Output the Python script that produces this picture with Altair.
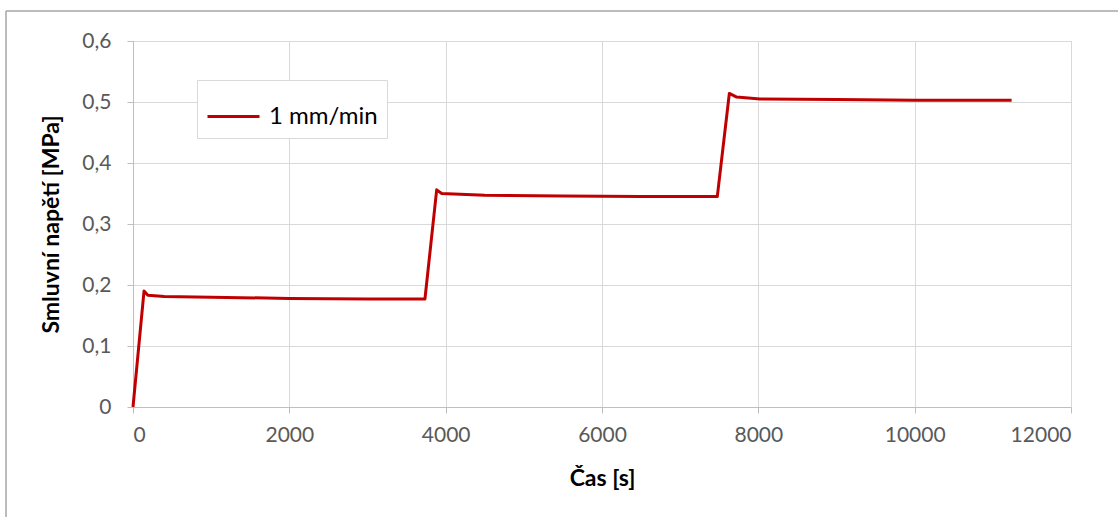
import altair as alt
import pandas as pd

# Data
time_s = [0, 141, 190, 400, 1000, 2000, 3000, 3735, 3885, 3949, 4500, 5500, 6500,
          7475, 7629, 7723, 8021, 9000, 10000, 11240]
stress_mpa = [0.0, 0.190, 0.183, 0.181, 0.180, 0.178, 0.177, 0.177, 0.356, 0.350,
              0.347, 0.346, 0.345, 0.345, 0.514, 0.508, 0.505, 0.504, 0.503, 0.503]
series_name = "1 mm/min"

x_ticks = [0, 2000, 4000, 6000, 8000, 10000, 12000]
y_ticks = [0, 0.1, 0.2, 0.3, 0.4, 0.5, 0.6]

df = pd.DataFrame({"t": time_s, "s": stress_mpa, "series": [series_name] * len(time_s)})

FONT = "Lato"
GRID = "#D9D9D9"
AXIS = "#BFBFBF"
LABEL = "#595959"

line = alt.Chart(df).mark_line(strokeWidth=3, strokeJoin="round").encode(
    x=alt.X("t:Q",
            scale=alt.Scale(domain=[0, 12000], nice=False),
            axis=alt.Axis(title="Čas [s]", values=x_ticks, format="d",
                          grid=True, gridColor=GRID, domainColor=AXIS,
                          tickColor=AXIS, tickSize=6, labelPadding=11,
                          labelFontSize=21, labelColor=LABEL, labelFont=FONT,
                          titleFont=FONT, titleFontSize=23, titleFontWeight="bold",
                          titleColor="#000000", titlePadding=22)),
    y=alt.Y("s:Q",
            scale=alt.Scale(domain=[0, 0.6], nice=False),
            axis=alt.Axis(title="Smluvní napětí [MPa]", values=y_ticks,
                          labelExpr="datum.value == 0 ? '0' : replace(format(datum.value, '.1f'), '.', ',')",
                          grid=True, gridColor=GRID, domainColor=AXIS,
                          tickColor=AXIS, tickSize=6, labelPadding=16,
                          labelFontSize=21, labelColor=LABEL, labelFont=FONT,
                          titleFont=FONT, titleFontSize=23, titleFontWeight="bold",
                          titleColor="#000000", titlePadding=18)),
    order="t:Q",
    color=alt.Color("series:N",
                    scale=alt.Scale(domain=[series_name], range=["#C00000"]),
                    legend=alt.Legend(title=None, orient="none", legendX=64, legendY=39,
                                      symbolType="stroke", symbolSize=2704,
                                      symbolStrokeWidth=3, labelFontSize=24,
                                      labelFont=FONT, labelColor="#000000",
                                      strokeColor="#D9D9D9", fillColor="#FFFFFF",
                                      padding=9, labelOffset=8)),
)

# outer chart border (top and left edges visible in the reference)
border_top = alt.Chart(pd.DataFrame({"a": [0]})).mark_rule(color="#A6A6A6", strokeWidth=1.5).encode(
    x=alt.value(-127), x2=alt.value(985), y=alt.value(-30))
border_left = alt.Chart(pd.DataFrame({"a": [0]})).mark_rule(color="#A6A6A6", strokeWidth=1.5).encode(
    x=alt.value(-127), y=alt.value(-30), y2=alt.value(476))

chart = alt.layer(border_top, border_left, line).properties(
    width=938, height=366,
    autosize=alt.AutoSizeParams(type="none"),
    padding={"left": 133, "top": 41, "right": 47, "bottom": 110},
).configure_view(stroke=None).configure(background="#FFFFFF")

chart.save("out.html", embed_options={"renderer": "svg", "actions": False})
